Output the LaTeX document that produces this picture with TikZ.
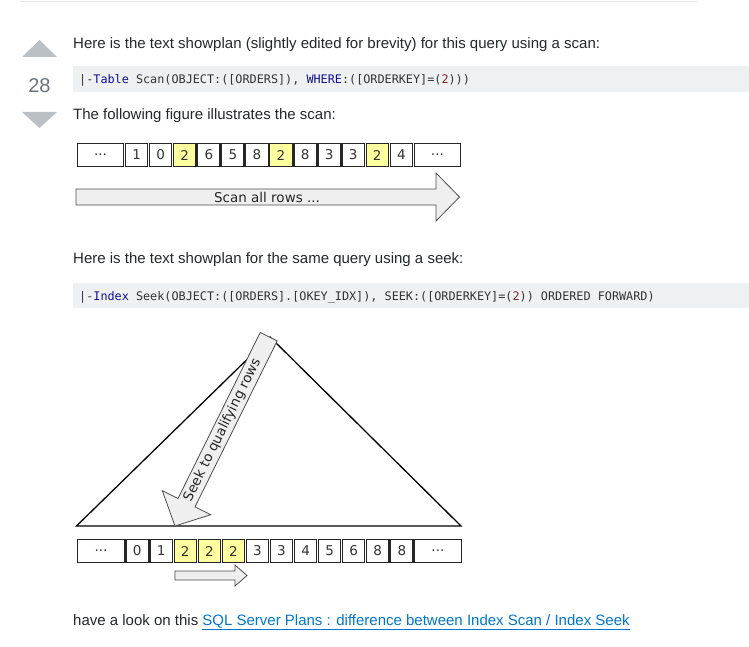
\documentclass[tikz,border=0pt]{standalone}
\usepackage{fontspec}
\setmainfont{Liberation Sans}
\newfontfamily\verd{DejaVu Sans}
\newfontfamily\codefont{DejaVu Sans Mono}
\definecolor{txt}{HTML}{242729}
\definecolor{codebg}{HTML}{EFF0F1}
\definecolor{codetx}{HTML}{303336}
\definecolor{kw}{HTML}{101094}
\definecolor{num}{HTML}{7D2727}
\definecolor{vote}{HTML}{BBC0C4}
\definecolor{votenum}{HTML}{6A737C}
\definecolor{hl}{HTML}{FFFF9F}
\definecolor{arrfill}{HTML}{EFEFEF}
\definecolor{linkc}{HTML}{0077CC}
\definecolor{rulec}{HTML}{E4E6E8}
\begin{document}
\begin{tikzpicture}[x=1pt,y=-1pt,
  prose/.style={anchor=base west,inner sep=0,text=txt,font=\fontsize{15pt}{18pt}\selectfont},
  codetext/.style={anchor=base west,inner sep=0,text=codetx,font=\codefont\fontsize{11.8pt}{14pt}\selectfont},
  cell/.style={draw=black!85,line width=1.2pt,minimum width=22.3pt,minimum height=23.5pt,inner sep=0,
    font=\verd\fontsize{13.5pt}{15pt}\selectfont,text=black!80},
  widecell/.style={cell,minimum width=46.4pt},
  blockarrow/.style={draw=black!70,fill=arrfill,line width=0.8pt,line join=miter},
  arrowtext/.style={inner sep=0,font=\verd\fontsize{13.5pt}{15pt}\selectfont,text=black!85},
  voteshape/.style={fill=vote,draw=none}]
\useasboundingbox (0,0) rectangle (749,647);
% top rule
\draw[rulec,line width=1pt] (20,2) -- (698,2);
% votes
\fill[voteshape] (22,57) -- (39.5,40) -- (57,57) -- cycle;
\node[anchor=base,inner sep=0,text=votenum,font=\fontsize{20pt}{24pt}\selectfont] (votes) at (39.5,93) {28};
\fill[voteshape] (22,112) -- (57,112) -- (39.5,128) -- cycle;
% text 1
\node[prose] (t1) at (73,49) {Here is the text showplan (slightly edited for brevity) for this query using a scan:};
\fill[codebg] (73,66) rectangle (749,92);
\node[codetext] (c1) at (79,84) {|-\textcolor{kw}{Table} Scan(OBJECT:([ORDERS]), \textcolor{kw}{WHERE}:([ORDERKEY]=(\textcolor{num}{2})))};
\node[prose] (t2) at (73,120) {The following figure illustrates the scan:};
% row 1
\node[widecell] (r1a) at (100.56,155) {...};
\foreach \v/\c [count=\i] in {1/white,0/white,2/hl,6/white,5/white,8/white,2/hl,8/white,3/white,3/white,2/hl,4/white}{
  \node[cell,fill=\c] (r1c\i) at ({76.5+24.06*(\i+1)+12.03},155) {\v};
}
\node[widecell] (r1z) at (437.4,155) {...};
% scan arrow
\draw[blockarrow] (76,189) -- (436,189) -- (436,173) -- (459.5,197) -- (436,221) -- (436,205) -- (76,205) -- cycle;
\node[arrowtext] (scan) at (267,197) {Scan all rows ...};
% text 3
\node[prose] (t3) at (73,263) {Here is the text showplan for the same query using a seek:};
\fill[codebg] (73,283) rectangle (749,308);
\node[codetext] (c2) at (79,300) {|-\textcolor{kw}{Index} Seek(OBJECT:([ORDERS].[OKEY\_IDX]), SEEK:([ORDERKEY]=(\textcolor{num}{2})) ORDERED FORWARD)};
% tree triangle
\draw[line width=1.3pt,line join=miter] (76.5,526) -- (270,337) -- (461,526) -- cycle;
% seek arrow
\draw[blockarrow] (260.2,332.5) -- (178.0,498.5) -- (162.3,490.7) -- (175,526) -- (210.7,514.7) -- (195.0,506.9) -- (277.2,340.9) -- cycle;
\node[arrowtext,rotate=63.7] (seek) at (222.5,430) {Seek to qualifying rows};
% row 2
\node[widecell] (r2a) at (101.06,551) {...};
\foreach \v/\c [count=\i] in {0/white,1/white,2/hl,2/hl,2/hl,3/white,3/white,4/white,5/white,6/white,8/white,8/white}{
  \node[cell,fill=\c] (r2c\i) at ({77+24.06*(\i+1)+12.03},551) {\v};
}
\node[widecell] (r2z) at (437.9,551) {...};
% small arrow
\draw[blockarrow] (175,571) -- (235,571) -- (235,565) -- (247,575.5) -- (235,586) -- (235,580) -- (175,580) -- cycle;
% link line
\node[prose] (t4) at (73,625) {have a look on this \textcolor{linkc}{\underline{SQL Server Plans : difference between Index Scan / Index Seek}}};
\end{tikzpicture}
\end{document}
